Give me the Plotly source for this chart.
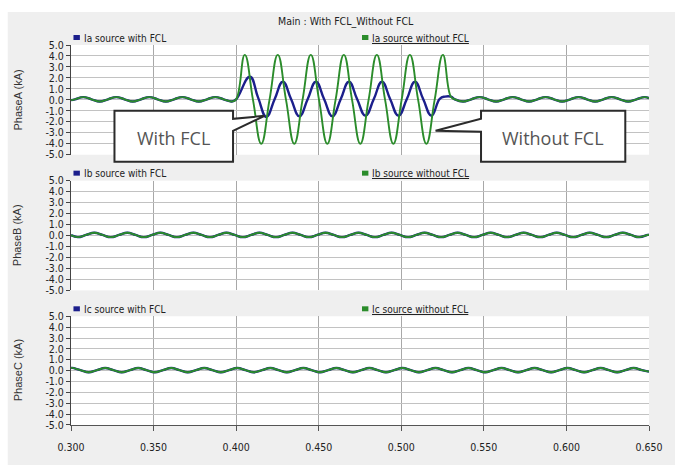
import plotly.graph_objects as go

# ---------------- data: time in s, source current in kA ----------------
# Phase A, steady state before the fault (shared by both cases)
ta_pre = [0.3000, 0.3024, 0.3074, 0.3124, 0.3174, 0.3224, 0.3274, 0.3324, 0.3374,
          0.3424, 0.3474, 0.3524, 0.3574, 0.3624, 0.3674, 0.3724, 0.3774, 0.3824,
          0.3874, 0.3924, 0.3974, 0.4000]
ia_pre = [-0.03, 0.05, 0.25, 0.05, -0.15, 0.05, 0.25, 0.05, -0.15,
          0.05, 0.25, 0.05, -0.15, 0.05, 0.25, 0.05, -0.15, 0.05,
          0.25, 0.05, -0.15, 0.05]

# Phase A during the fault, without FCL
ta_fault_without = [0.4052, 0.4102, 0.4152, 0.4202, 0.4252, 0.4302, 0.4352, 0.4402,
                    0.4452, 0.4502, 0.4552, 0.4602, 0.4652, 0.4702, 0.4752, 0.4802,
                    0.4852, 0.4902, 0.4952, 0.5002, 0.5052, 0.5102, 0.5152, 0.5202,
                    0.5252, 0.5300]
ia_fault_without = [4.1, 0.0, -4.0, 0.0, 4.1, 0.0, -4.0, 0.0,
                    4.1, 0.0, -4.0, 0.0, 4.1, 0.0, -4.0, 0.0,
                    4.1, 0.0, -4.0, 0.0, 4.1, 0.0, -4.0, 0.0,
                    4.1, 0.3]

# Phase A during the fault, with FCL
ta_fault_with = [0.4083, 0.4133, 0.4183, 0.4233, 0.4283, 0.4333, 0.4383, 0.4433,
                 0.4483, 0.4533, 0.4583, 0.4633, 0.4683, 0.4733, 0.4783, 0.4833,
                 0.4883, 0.4933, 0.4983, 0.5033, 0.5083, 0.5133, 0.5183, 0.5233,
                 0.5265, 0.5300]
ia_fault_with = [2.1, 0.2, -1.55, 0.05, 1.65, 0.05, -1.5, 0.05,
                 1.65, 0.05, -1.5, 0.05, 1.65, 0.05, -1.45, 0.05,
                 1.65, 0.05, -1.45, 0.05, 1.65, 0.05, -1.45, 0.1,
                 0.3, 0.3]

# Phase A after fault clearing (shared by both cases)
ta_post = [0.5324, 0.5374, 0.5424, 0.5474, 0.5524, 0.5574, 0.5624, 0.5674,
           0.5724, 0.5774, 0.5824, 0.5874, 0.5924, 0.5974, 0.6024, 0.6074,
           0.6124, 0.6174, 0.6224, 0.6274, 0.6324, 0.6374, 0.6424, 0.6474,
           0.6500]
ia_post = [0.05, -0.15, 0.05, 0.25, 0.05, -0.15, 0.05, 0.25,
           0.05, -0.15, 0.05, 0.25, 0.05, -0.15, 0.05, 0.25,
           0.05, -0.15, 0.05, 0.25, 0.05, -0.15, 0.05, 0.25,
           0.15]

# Phase B (identical with and without FCL)
tb = [0.3000, 0.3041, 0.3091, 0.3141, 0.3191, 0.3241, 0.3291, 0.3341, 0.3391,
      0.3441, 0.3491, 0.3541, 0.3591, 0.3641, 0.3691, 0.3741, 0.3791, 0.3841,
      0.3891, 0.3941, 0.3991, 0.4041, 0.4091, 0.4141, 0.4191, 0.4241, 0.4291,
      0.4341, 0.4391, 0.4441, 0.4491, 0.4541, 0.4591, 0.4641, 0.4691, 0.4741,
      0.4791, 0.4841, 0.4891, 0.4941, 0.4991, 0.5041, 0.5091, 0.5141, 0.5191,
      0.5241, 0.5291, 0.5341, 0.5391, 0.5441, 0.5491, 0.5541, 0.5591, 0.5641,
      0.5691, 0.5741, 0.5791, 0.5841, 0.5891, 0.5941, 0.5991, 0.6041, 0.6091,
      0.6141, 0.6191, 0.6241, 0.6291, 0.6341, 0.6391, 0.6441, 0.6491, 0.6500]
ib = [0.03, -0.15, 0.05, 0.25, 0.05, -0.15, 0.05, 0.25, 0.05,
      -0.15, 0.05, 0.25, 0.05, -0.15, 0.05, 0.25, 0.05, -0.15,
      0.05, 0.25, 0.05, -0.15, 0.05, 0.25, 0.05, -0.15, 0.05,
      0.25, 0.05, -0.15, 0.05, 0.25, 0.05, -0.15, 0.05, 0.25,
      0.05, -0.15, 0.05, 0.25, 0.05, -0.15, 0.05, 0.25, 0.05,
      -0.15, 0.05, 0.25, 0.05, -0.15, 0.05, 0.25, 0.05, -0.15,
      0.05, 0.25, 0.05, -0.15, 0.05, 0.25, 0.05, -0.15, 0.05,
      0.25, 0.05, -0.15, 0.05, 0.25, 0.05, -0.15, 0.05, 0.08]

# Phase C (identical with and without FCL)
tc = [0.3000, 0.3007, 0.3057, 0.3107, 0.3157, 0.3207, 0.3257, 0.3307, 0.3357,
      0.3407, 0.3457, 0.3507, 0.3557, 0.3607, 0.3657, 0.3707, 0.3757, 0.3807,
      0.3857, 0.3907, 0.3957, 0.4007, 0.4057, 0.4107, 0.4157, 0.4207, 0.4257,
      0.4307, 0.4357, 0.4407, 0.4457, 0.4507, 0.4557, 0.4607, 0.4657, 0.4707,
      0.4757, 0.4807, 0.4857, 0.4907, 0.4957, 0.5007, 0.5057, 0.5107, 0.5157,
      0.5207, 0.5257, 0.5307, 0.5357, 0.5407, 0.5457, 0.5507, 0.5557, 0.5607,
      0.5657, 0.5707, 0.5757, 0.5807, 0.5857, 0.5907, 0.5957, 0.6007, 0.6057,
      0.6107, 0.6157, 0.6207, 0.6257, 0.6307, 0.6357, 0.6407, 0.6457, 0.6500]
ic = [0.24, 0.25, 0.05, -0.15, 0.05, 0.25, 0.05, -0.15, 0.05,
      0.25, 0.05, -0.15, 0.05, 0.25, 0.05, -0.15, 0.05, 0.25,
      0.05, -0.15, 0.05, 0.25, 0.05, -0.15, 0.05, 0.25, 0.05,
      -0.15, 0.05, 0.25, 0.05, -0.15, 0.05, 0.25, 0.05, -0.15,
      0.05, 0.25, 0.05, -0.15, 0.05, 0.25, 0.05, -0.15, 0.05,
      0.25, 0.05, -0.15, 0.05, 0.25, 0.05, -0.15, 0.05, 0.25,
      0.05, -0.15, 0.05, 0.25, 0.05, -0.15, 0.05, 0.25, 0.05,
      -0.15, 0.05, 0.25, 0.05, -0.15, 0.05, 0.25, 0.05, -0.09]

y_ticks = [5, 4, 3, 2, 1, 0, -1, -2, -3, -4, -5]
y_labels = ["5.0", "4.0", "3.0", "2.0", "1.0", "0.0", "-1.0", "-2.0", "-3.0", "-4.0", "-5.0"]
x_ticks = [0.30, 0.35, 0.40, 0.45, 0.50, 0.55, 0.60, 0.65]
x_labels = ["0.300", "0.350", "0.400", "0.450", "0.500", "0.550", "0.600", "0.650"]
t_range = [0.30, 0.65]

panel_titles = ["PhaseA (kA)", "PhaseB (kA)", "PhaseC (kA)"]
legend_with = ["Ia source with FCL", "Ib source with FCL", "Ic source with FCL"]
legend_without = ["Ia source without FCL", "Ib source without FCL", "Ic source without FCL"]

# ---------------- styling ----------------
BLUE = "#1c1f8c"
GREEN = "#2b8c2b"
PANEL_BG = "#efefef"
NARROW = "Liberation Sans Narrow, DejaVu Sans Condensed, Arial Narrow, sans-serif"
CALLOUT_FONT = "Open Sans, Noto Sans, sans-serif"
W, H = 675, 465
L, R, T, B = 71, 19, 45, 39
plot_w = W - L - R
plot_h = H - T - B


def px(x):
    """pixel column -> paper x"""
    return (x - L) / plot_w


def tx(x):
    """pixel column -> time axis value"""
    return t_range[0] + (x - L) / plot_w * (t_range[1] - t_range[0])


def py(y):
    """pixel row -> paper y"""
    return (H - B - y) / plot_h


# panel extents in pixels (top, bottom)
panels = [(45, 155), (181, 291), (317, 426)]

series = [
    (ta_pre + ta_fault_with + ta_post, ia_pre + ia_fault_with + ia_post,
     ta_pre + ta_fault_without + ta_post, ia_pre + ia_fault_without + ia_post),
    (tb, ib, tb, ib),
    (tc, ic, tc, ic),
]

fig = go.Figure()
for i, (tw, iw, tn, iN) in enumerate(series):
    ax = "" if i == 0 else str(i + 1)
    fig.add_trace(go.Scatter(x=tw, y=iw, mode="lines", name=legend_with[i],
                             line=dict(color=BLUE, width=2.4, shape="spline", smoothing=1.3),
                             xaxis="x" + ax, yaxis="y" + ax, showlegend=False))
    fig.add_trace(go.Scatter(x=tn, y=iN, mode="lines", name=legend_without[i],
                             line=dict(color=GREEN, width=1.9, shape="spline", smoothing=1.3),
                             xaxis="x" + ax, yaxis="y" + ax, showlegend=False))

layout = dict(
    width=W, height=H, autosize=False,
    margin=dict(l=L, r=R, t=T, b=B),
    paper_bgcolor=PANEL_BG,
    plot_bgcolor="white",
    showlegend=False,
)

for i, (top, bot) in enumerate(panels):
    ax = "" if i == 0 else str(i + 1)
    last = i == len(panels) - 1
    layout["xaxis" + ax] = dict(
        domain=[0, 1], range=t_range, anchor="y" + ax,
        tickmode="array", tickvals=x_ticks, ticktext=x_labels,
        showticklabels=last, ticks="outside" if last else "", ticklen=5,
        ticklabelstandoff=7,
        tickcolor="#555", showline=last, linecolor="#555", linewidth=1,
        showgrid=True, gridcolor="#a8a8a8", gridwidth=1, zeroline=False,
        tickfont=dict(family=NARROW, size=10.5, color="#222"),
        matches=None if i == 0 else "x",
    )
    layout["yaxis" + ax] = dict(
        domain=[py(bot), py(top)], range=[-5, 5], anchor="x" + ax,
        tickmode="array", tickvals=y_ticks, ticktext=y_labels,
        ticks="outside", ticklen=4, tickcolor="#444",
        showline=True, linecolor="#444", linewidth=1,
        showgrid=True, gridcolor="#c2c2c2", gridwidth=1, zeroline=False,
        tickfont=dict(family=NARROW, size=10.5, color="#222"),
    )

fig.update_layout(**layout)

annotations = []
shapes = []

# white margin strips around the grey chart panel
shapes.append(dict(type="rect", xref="paper", yref="paper", layer="below",
                   x0=px(-5), x1=px(W + 10), y0=py(12), y1=py(-2),
                   fillcolor="white", line=dict(width=0)))
shapes.append(dict(type="rect", xref="paper", yref="paper", layer="below",
                   x0=px(-5), x1=px(7), y0=py(H + 2), y1=py(0),
                   fillcolor="white", line=dict(width=0)))


def label(text, x, y, size, family=NARROW, color="#222", xanchor="center", angle=0,
          on_axis=True):
    annotations.append(dict(text=text, xref="x" if on_axis else "paper", yref="paper",
                            x=tx(x) if on_axis else px(x), y=py(y),
                            xanchor=xanchor, yanchor="middle", textangle=angle,
                            showarrow=False, font=dict(family=family, size=size, color=color)))


# chart title
label("Main : With FCL_Without FCL", 349, 21, 10.5)

for i, (top, bot) in enumerate(panels):
    ymid = (top + bot) / 2
    # vertical axis title
    label(panel_titles[i], 17, ymid, 11, family="Liberation Sans, Arial, sans-serif",
          color="#333", angle=-90, on_axis=False)
    ly = top - 7
    # legend entries: square swatch + label
    shapes.append(dict(type="rect", xref="x", yref="paper",
                       x0=tx(73.5), x1=tx(80), y0=py(ly + 2), y1=py(ly - 3),
                       fillcolor=BLUE, line=dict(width=0)))
    label(legend_with[i], 82, ly, 10, xanchor="left")
    shapes.append(dict(type="rect", xref="x", yref="paper",
                       x0=tx(365.5), x1=tx(372), y0=py(ly + 2), y1=py(ly - 3),
                       fillcolor=GREEN, line=dict(width=0)))
    label("<u>" + legend_without[i] + "</u>", 374, ly, 10, xanchor="left")


def callout_path(pts):
    return "M " + " L ".join(f"{tx(x):.6f},{py(y):.5f}" for x, y in pts) + " Z"


# "With FCL" callout with its pointer on the right side
with_pts = [(115, 111), (235, 111), (235, 119), (267, 116), (235, 131),
            (235, 162), (115, 162)]
# "Without FCL" callout with its pointer on the left side
without_pts = [(486, 111), (632, 111), (632, 162), (486, 162), (486, 132),
               (440, 131), (486, 119)]
for pts in (with_pts, without_pts):
    shapes.append(dict(type="path", xref="x", yref="paper", path=callout_path(pts),
                       fillcolor="white", line=dict(color="#2b2b2b", width=2)))

label("With FCL", 175, 138, 18, family=CALLOUT_FONT, color="#555")
label("Without FCL", 559, 138, 18, family=CALLOUT_FONT, color="#555")

fig.update_layout(annotations=annotations, shapes=shapes)
fig.write_html(
    "out.html",
    config={"responsive": False},
    post_script="document.body.style.margin='0';document.body.style.overflow='hidden';"
                "document.documentElement.style.overflow='hidden';"
                "document.documentElement.style.scrollbarWidth='none';",
)
